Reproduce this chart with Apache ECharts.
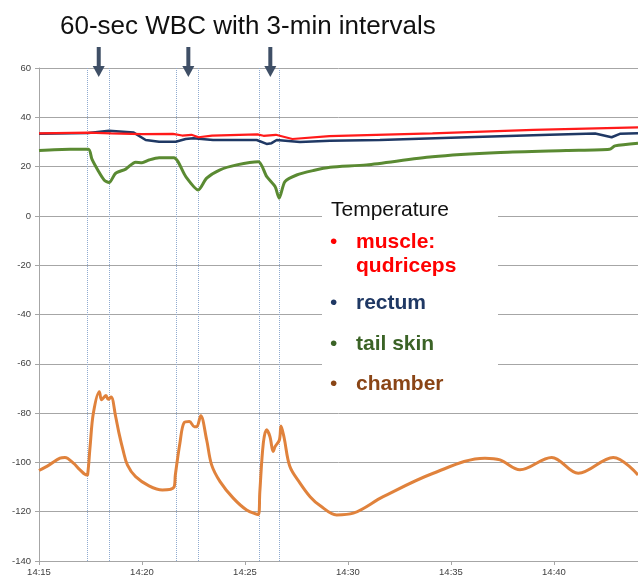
<!DOCTYPE html>
<html>
<head>
<meta charset="utf-8">
<script src="https://cdn.jsdelivr.net/npm/echarts@6/dist/echarts.min.js"></script>
<style>
  html, body { margin: 0; padding: 0; background: #fff; }
  #container { width: 638px; height: 580px; }
</style>
</head>
<body>
<div id="container"></div>
<script>
// minutes after 14:15, temperature in degrees
var muscle = [
    [0, 33.5], [2.4, 33.8], [3.5, 33.5], [5, 33.2], [6.5, 33.3], [6.95, 32.6],
    [7.4, 32.9], [7.75, 31.9], [8.4, 32.6], [10.6, 33.1], [10.9, 32.5], [11.5, 32.9],
    [12.3, 31.2], [14.1, 32.4], [19.1, 33.5], [24, 34.9], [29.08, 35.9]
];
var rectum = [
    [0, 33.3], [2.4, 33.6], [3.4, 34.5], [4.6, 33.8], [5.18, 30.8], [5.83, 30.1],
    [6.64, 30.1], [7.12, 31.2], [7.49, 31.5], [8.45, 30.8], [10.57, 30.8], [11.05, 29.2],
    [11.29, 29.5], [11.54, 30.8], [12.67, 30], [14.13, 30.5], [16.55, 30.8], [20.76, 31.9],
    [24.8, 32.9], [27.0, 33.4], [27.8, 31.9], [28.2, 33.3], [29.08, 33.5]
];
var tailSkin = [
    [0, 26.5], [1.5, 27], [2.4, 27], [2.57, 23], [2.86, 18.5], [3.16, 14.6], [3.4, 13.5],
    [3.72, 17.3], [4.21, 19], [4.69, 21.8], [5.0, 21.6], [5.34, 22.7], [5.83, 23.6],
    [6.55, 23.6], [7.12, 16], [7.73, 10.5], [8.14, 15.3], [8.79, 18.7], [9.6, 20.7],
    [10.65, 22], [11.05, 16], [11.46, 11.9], [11.66, 7.2], [11.94, 13.9], [12.51, 16.6],
    [13.32, 18.4], [14.13, 19.7], [15.9, 20.7], [19.1, 24], [22.4, 25.7], [25.6, 26.5],
    [27.7, 27], [27.96, 28.4], [29.08, 29.5]
];
var chamber = [
    [0, -103.3], [0.5, -101], [1.02, -98.3], [1.26, -98], [1.67, -100.3], [1.99, -103],
    [2.32, -105.1], [2.36, -105], [2.48, -93.6], [2.64, -80], [2.93, -71.3], [3.04, -74.6],
    [3.25, -72.9], [3.36, -74.4], [3.5, -73.5], [3.72, -81.4], [3.88, -88], [4.08, -95],
    [4.29, -101], [4.69, -105.8], [5.34, -109.5], [5.99, -111.2], [6.55, -110.1], [6.62, -105],
    [6.84, -92.2], [7.05, -83.8], [7.3, -83.4], [7.54, -85.5], [7.66, -85.5], [7.85, -81.1],
    [8.14, -90.9], [8.38, -101], [8.79, -107.8], [9.43, -114.5], [10.08, -119.3], [10.65, -121.2],
    [10.72, -112], [10.89, -92.2], [11.05, -86.8], [11.21, -89.5], [11.37, -95.6], [11.46, -93.6],
    [11.67, -90.9], [11.75, -85.2], [11.9, -90], [12.18, -101.7], [12.67, -108.4], [13.16, -113.9],
    [13.64, -117.5], [14.45, -121.3], [15.26, -120.6], [16.71, -113.9], [19.14, -104.4], [21.65, -98.3],
    [22.38, -99], [23.35, -103], [24.89, -98], [26.18, -104.4], [27.88, -98], [29.08, -105.1]
];
// start / end of each 60-sec WBC
var wbcBounds = [2.36, 3.41, 6.64, 7.72, 10.68, 11.67];
var arrowTimes = [2.9, 7.25, 11.23];

var dom = document.getElementById("container");
var myChart = echarts.init(dom);

var legendFont = '21px "Liberation Sans"';
var legendBold = 'bold 21px "Liberation Sans"';
function legendText(x, y, text, color, font) {
    return {
        type: 'text', z: 100, x: x, y: y,
        style: { text: text, fill: color, font: font, verticalAlign: 'middle' }
    };
}

var option = {
    animation: false,
    title: {
        text: '60-sec WBC with 3-min intervals',
        left: 55,
        top: 9,
        textStyle: {
            fontFamily: 'Liberation Sans',
            fontWeight: 'normal',
            fontSize: 26,
            color: '#111'
        }
    },
    grid: {
        left: 39,
        right: 0,
        top: 68,
        bottom: 19
    },
    xAxis: {
        type: 'value',
        min: 0,
        max: 29.08,
        interval: 5,
        axisLine: { onZero: false, lineStyle: { color: '#a6a6a6' } },
        axisTick: { length: 4, lineStyle: { color: '#a6a6a6' } },
        splitLine: { show: false },
        axisLabel: {
            showMaxLabel: false,
            margin: 6,
            fontFamily: 'Liberation Sans',
            fontSize: 9.5,
            color: '#404040',
            formatter: function (v) {
                var t = 15 + Math.round(v);
                var h = 14 + Math.floor(t / 60);
                var m = t % 60;
                return h + ':' + (m < 10 ? '0' : '') + m;
            }
        }
    },
    yAxis: {
        type: 'value',
        min: -140,
        max: 60,
        interval: 20,
        axisLine: { show: true, lineStyle: { color: '#a6a6a6' } },
        axisTick: { show: true, length: 4, lineStyle: { color: '#a6a6a6' } },
        splitLine: { lineStyle: { color: '#a6a6a6', width: 1 } },
        axisLabel: {
            margin: 8,
            fontFamily: 'Liberation Sans',
            fontSize: 9.5,
            color: '#404040'
        }
    },
    series: [
        {
            name: 'rectum',
            type: 'line',
            data: rectum,
            showSymbol: false,
            lineStyle: { color: '#1f3864', width: 2.5 }
        },
        {
            name: 'muscle: qudriceps',
            type: 'line',
            data: muscle,
            showSymbol: false,
            lineStyle: { color: '#ff1a1a', width: 2.2 },
            markLine: {
                silent: true,
                z: 1,
                symbol: 'none',
                label: { show: false },
                lineStyle: { type: 'dotted', color: '#8faad0', width: 1 },
                data: wbcBounds.map(function (v) { return { xAxis: v }; })
            }
        },
        {
            name: 'tail skin',
            type: 'line',
            data: tailSkin,
            showSymbol: false,
            smooth: 0.25,
            lineStyle: { color: '#5a8a32', width: 3 }
        },
        {
            name: 'chamber',
            type: 'line',
            data: chamber,
            showSymbol: false,
            smooth: 0.35,
            lineStyle: { color: '#e0823c', width: 3 }
        },
        {
            name: 'WBC',
            type: 'custom',
            clip: false,
            data: arrowTimes.map(function (t) { return [t, 60]; }),
            encode: { x: 0, y: 1 },
            renderItem: function (params, api) {
                var p = api.coord([api.value(0), api.value(1)]);
                return {
                    type: 'group',
                    children: [
                        {
                            type: 'rect',
                            shape: { x: p[0] - 2, y: p[1] - 21, width: 4, height: 20 },
                            style: { fill: '#3f4f66' }
                        },
                        {
                            type: 'polygon',
                            shape: { points: [[p[0] - 6, p[1] - 2], [p[0] + 6, p[1] - 2], [p[0], p[1] + 9]] },
                            style: { fill: '#3f4f66' }
                        }
                    ]
                };
            }
        }
    ],
    graphic: [
        { type: 'rect', z: 99, shape: { x: 322, y: 194, width: 176, height: 206 }, style: { fill: '#fff' } },
        legendText(331, 210, 'Temperature', '#111', legendFont),
        legendText(330, 242, '•', '#ff0000', legendFont),
        legendText(356, 242, 'muscle:', '#ff0000', legendBold),
        legendText(356, 266, 'qudriceps', '#ff0000', legendBold),
        legendText(330, 303, '•', '#1f3864', legendFont),
        legendText(356, 303, 'rectum', '#1f3864', legendBold),
        legendText(330, 344, '•', '#3b6326', legendFont),
        legendText(356, 344, 'tail skin', '#3b6326', legendBold),
        legendText(330, 384, '•', '#8a4516', legendFont),
        legendText(356, 384, 'chamber', '#8a4516', legendBold)
    ]
};

myChart.setOption(option, true);
</script>
</body>
</html>
